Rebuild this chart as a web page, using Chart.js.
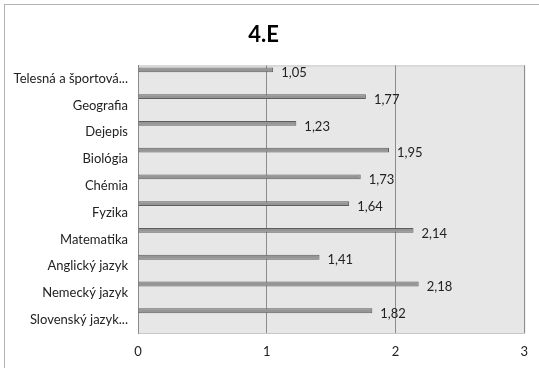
<!DOCTYPE html>
<html>
<head>
<meta charset="utf-8">
<script src="https://cdn.jsdelivr.net/npm/chart.js@4.4.1/dist/chart.umd.min.js"></script>
<style>
  html, body { margin: 0; padding: 0; background: #fff; }
  #wrap { width: 539px; height: 368px; }
</style>
</head>
<body>
<div id="wrap"><canvas id="myChart" width="539" height="368"></canvas></div>
<script>
// data (top to bottom)
const subjects = ['Telesná a športová...', 'Geografia', 'Dejepis', 'Biológia', 'Chémia',
  'Fyzika', 'Matematika', 'Anglický jazyk', 'Nemecký jazyk', 'Slovenský jazyk...'];
const averages = [1.05, 1.77, 1.23, 1.95, 1.73, 1.64, 2.14, 1.41, 2.18, 1.82];
const emptySeries = [null, null, null, null, null, null, null, null, null, null];
const xTicks = [0, 1, 2, 3];

const FONT = 'Lato, "Open Sans", sans-serif';

// frame + grey plot background
const backdrop = {
  id: 'backdrop',
  beforeDraw(chart) {
    const ctx = chart.ctx;
    const a = chart.chartArea;
    ctx.save();
    ctx.strokeStyle = '#b4b4b4';
    ctx.lineWidth = 1;
    ctx.strokeRect(4.5, 4.5, 700, 700);
    ctx.fillStyle = '#e7e7e7';
    ctx.fillRect(a.left, a.top, a.right - a.left, a.bottom - a.top);
    ctx.strokeStyle = '#c8c8c8';
    ctx.strokeRect(a.left + 0.5, a.top + 0.5, a.right - a.left, a.bottom - a.top);
    ctx.restore();
  }
};

// value labels like "1,05"
const valueLabels = {
  id: 'valueLabels',
  afterDatasetsDraw(chart) {
    const ctx = chart.ctx;
    const meta = chart.getDatasetMeta(0);
    ctx.save();
    ctx.font = '13px ' + FONT;
    ctx.fillStyle = '#222';
    ctx.textBaseline = 'middle';
    ctx.textAlign = 'left';
    meta.data.forEach((bar, i) => {
      const txt = averages[i].toFixed(2).replace('.', ',');
      ctx.fillText(txt, bar.x + 8, bar.y + 3);
    });
    ctx.restore();
  }
};

new Chart(document.getElementById('myChart').getContext('2d'), {
  type: 'bar',
  data: {
    labels: subjects,
    datasets: [
      {
        label: '4.E',
        data: averages,
        backgroundColor: '#959595',
        borderColor: '#5e5e5e',
        borderWidth: 1,
        borderSkipped: false
      },
      { label: '', data: emptySeries },
      { label: '', data: emptySeries }
    ]
  },
  options: {
    indexAxis: 'y',
    responsive: false,
    animation: false,
    devicePixelRatio: 1,
    categoryPercentage: 1.0,
    barPercentage: 0.55,
    layout: { padding: { left: 0, right: 12, top: 0, bottom: 0 } },
    plugins: {
      legend: { display: false },
      tooltip: { enabled: false },
      title: {
        display: true,
        text: '4.E',
        color: '#000',
        font: { family: FONT, size: 22, weight: 'bold' },
        padding: { top: 22, bottom: 17 }
      }
    },
    scales: {
      x: {
        min: 0,
        max: 3,
        afterBuildTicks: scale => { scale.ticks = xTicks.map(v => ({ value: v })); },
        afterFit: scale => { scale.height = 35; },
        ticks: {
          color: '#222',
          font: { family: FONT, size: 13 },
          padding: 11
        },
        grid: {
          drawTicks: false,
          color: ctx => ctx.tick && ctx.tick.value === 0 ? 'rgba(0,0,0,0)' : '#8c8c8c'
        },
        border: { display: false }
      },
      y: {
        afterFit: scale => { scale.width = 138; },
        ticks: {
          color: '#222',
          font: { family: FONT, size: 13 },
          padding: 10
        },
        grid: { display: false, drawTicks: false },
        border: { display: true, color: '#8c8c8c' }
      }
    }
  },
  plugins: [backdrop, valueLabels]
});
</script>
</body>
</html>
